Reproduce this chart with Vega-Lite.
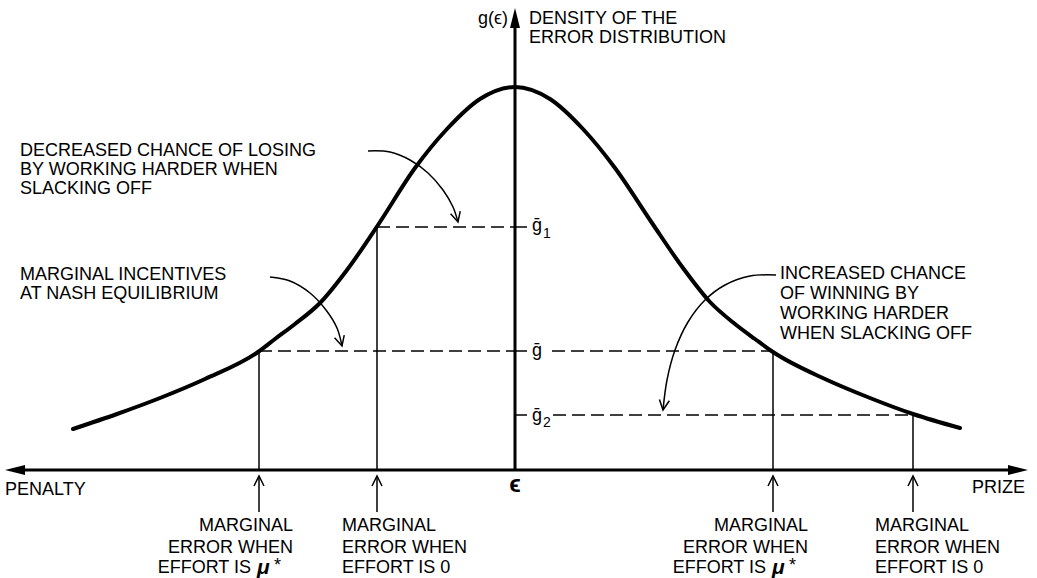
{
  "$schema": "https://vega.github.io/schema/vega-lite/v6.json",
  "width": 1037,
  "height": 578,
  "autosize": {"type": "fit", "contains": "padding"},
  "padding": 0,
  "background": "white",
  "config": {"view": {"stroke": null}, "text": {"font": "Liberation Sans", "fontSize": 18, "color": "black"}},
  "datasets": {
    "curve": [
      {"x": -4.42, "y": 0.41}, {"x": -3.98, "y": 0.56}, {"x": -3.55, "y": 0.72}, {"x": -3.10, "y": 0.91},
      {"x": -2.57, "y": 1.18}, {"x": -2.40, "y": 1.31}, {"x": -2.20, "y": 1.46}, {"x": -1.95, "y": 1.67},
      {"x": -1.68, "y": 2.00}, {"x": -1.37, "y": 2.45}, {"x": -1.00, "y": 3.02}, {"x": -0.68, "y": 3.41},
      {"x": -0.35, "y": 3.71}, {"x": 0, "y": 3.83}, {"x": 0.35, "y": 3.71}, {"x": 0.68, "y": 3.41},
      {"x": 1.00, "y": 3.02}, {"x": 1.37, "y": 2.47}, {"x": 1.68, "y": 2.02}, {"x": 1.95, "y": 1.68},
      {"x": 2.20, "y": 1.46}, {"x": 2.40, "y": 1.31}, {"x": 2.58, "y": 1.18}, {"x": 3.10, "y": 0.91},
      {"x": 3.55, "y": 0.72}, {"x": 3.98, "y": 0.56}, {"x": 4.45, "y": 0.42}
    ],
    "axes": [
      {"x": -4.95, "x2": 4.95, "y": 0, "y2": 0},
      {"x": 0, "x2": 0, "y": 0, "y2": 4.45}
    ],
    "thin": [
      {"x": -2.56, "x2": -2.56, "y": 0, "y2": 1.18},
      {"x": -1.38, "x2": -1.38, "y": 0, "y2": 2.43},
      {"x": 2.58, "x2": 2.58, "y": 0, "y2": 1.18},
      {"x": 3.98, "x2": 3.98, "y": 0, "y2": 0.56},
      {"x": 0, "x2": 0.12, "y": 2.43, "y2": 2.43},
      {"x": 0, "x2": 0.12, "y": 1.19, "y2": 1.19},
      {"x": 0, "x2": 0.12, "y": 0.55, "y2": 0.55},
      {"x": -2.56, "x2": -2.56, "y": -0.06, "y2": -0.42},
      {"x": -1.38, "x2": -1.38, "y": -0.06, "y2": -0.42},
      {"x": 2.58, "x2": 2.58, "y": -0.06, "y2": -0.42},
      {"x": 3.98, "x2": 3.98, "y": -0.06, "y2": -0.42}
    ],
    "dashed": [
      {"x": -2.56, "x2": 0, "y": 1.19, "y2": 1.19},
      {"x": 0.37, "x2": 2.58, "y": 1.19, "y2": 1.19},
      {"x": -1.38, "x2": 0, "y": 2.43, "y2": 2.43},
      {"x": 0.38, "x2": 3.98, "y": 0.55, "y2": 0.55}
    ],
    "upheads": [
      {"x": -2.56, "y": -0.06}, {"x": -1.38, "y": -0.06}, {"x": 2.58, "y": -0.06}, {"x": 3.98, "y": -0.06}
    ],
    "arrows": [
      {"id": "a", "i": 0, "x": -1.47, "y": 3.19}, {"id": "a", "i": 1, "x": -1.25, "y": 3.18},
      {"id": "a", "i": 2, "x": -1.05, "y": 3.10}, {"id": "a", "i": 3, "x": -0.87, "y": 2.97},
      {"id": "a", "i": 4, "x": -0.72, "y": 2.80}, {"id": "a", "i": 5, "x": -0.62, "y": 2.63},
      {"id": "a", "i": 6, "x": -0.57, "y": 2.48},
      {"id": "b", "i": 0, "x": -2.45, "y": 1.93}, {"id": "b", "i": 1, "x": -2.25, "y": 1.89},
      {"id": "b", "i": 2, "x": -2.05, "y": 1.77}, {"id": "b", "i": 3, "x": -1.89, "y": 1.60},
      {"id": "b", "i": 4, "x": -1.78, "y": 1.42}, {"id": "b", "i": 5, "x": -1.73, "y": 1.24},
      {"id": "c", "i": 0, "x": 2.61, "y": 1.95}, {"id": "c", "i": 1, "x": 2.35, "y": 1.94},
      {"id": "c", "i": 2, "x": 2.10, "y": 1.85}, {"id": "c", "i": 3, "x": 1.90, "y": 1.70},
      {"id": "c", "i": 4, "x": 1.73, "y": 1.48}, {"id": "c", "i": 5, "x": 1.60, "y": 1.20},
      {"id": "c", "i": 6, "x": 1.52, "y": 0.90}, {"id": "c", "i": 7, "x": 1.48, "y": 0.60}
    ],
    "leftText": [
      {"x": -4.95, "y": 3.19, "t": "DECREASED CHANCE OF LOSING"},
      {"x": -4.95, "y": 3.00, "t": "BY WORKING HARDER WHEN"},
      {"x": -4.95, "y": 2.81, "t": "SLACKING OFF"},
      {"x": -4.95, "y": 1.95, "t": "MARGINAL INCENTIVES"},
      {"x": -4.95, "y": 1.76, "t": "AT NASH EQUILIBRIUM"},
      {"x": 2.65, "y": 1.96, "t": "INCREASED CHANCE"},
      {"x": 2.65, "y": 1.76, "t": "OF WINNING BY"},
      {"x": 2.65, "y": 1.56, "t": "WORKING HARDER"},
      {"x": 2.65, "y": 1.36, "t": "WHEN SLACKING OFF"},
      {"x": 0.14, "y": 4.51, "t": "DENSITY OF THE"},
      {"x": 0.14, "y": 4.32, "t": "ERROR DISTRIBUTION"},
      {"x": -5.10, "y": -0.20, "t": "PENALTY"},
      {"x": -1.73, "y": -0.56, "t": "MARGINAL"},
      {"x": -1.73, "y": -0.78, "t": "ERROR WHEN"},
      {"x": -1.73, "y": -0.98, "t": "EFFORT IS 0"},
      {"x": 3.60, "y": -0.56, "t": "MARGINAL"},
      {"x": 3.60, "y": -0.78, "t": "ERROR WHEN"},
      {"x": 3.60, "y": -0.98, "t": "EFFORT IS 0"}
    ],
    "rightText": [
      {"x": -0.07, "y": 4.51, "t": "g(ϵ)"},
      {"x": 5.10, "y": -0.18, "t": "PRIZE"},
      {"x": -2.22, "y": -0.56, "t": "MARGINAL"},
      {"x": -2.22, "y": -0.78, "t": "ERROR WHEN"},
      {"x": -2.64, "y": -0.98, "t": "EFFORT IS"},
      {"x": 2.93, "y": -0.56, "t": "MARGINAL"},
      {"x": 2.93, "y": -0.78, "t": "ERROR WHEN"},
      {"x": 2.51, "y": -0.98, "t": "EFFORT IS"}
    ],
    "mu": [
      {"x": -2.58, "y": -0.98, "t": "μ"},
      {"x": 2.57, "y": -0.98, "t": "μ"}
    ],
    "star": [
      {"x": -2.41, "y": -0.96, "t": "*"},
      {"x": 2.74, "y": -0.96, "t": "*"}
    ],
    "gbar": [
      {"x": 0.17, "y": 2.39, "t": "ḡ"},
      {"x": 0.17, "y": 1.14, "t": "ḡ"},
      {"x": 0.17, "y": 0.49, "t": "ḡ"}
    ],
    "subs": [
      {"x": 0.28, "y": 2.32, "t": "1"},
      {"x": 0.28, "y": 0.43, "t": "2"}
    ],
    "eps": [{"x": 0, "y": -0.15, "t": "ϵ"}]
  },
  "encoding": {
    "x": {"field": "x", "type": "quantitative", "scale": {"domain": [-5.15, 5.22], "nice": false, "zero": false}, "axis": null},
    "y": {"field": "y", "type": "quantitative", "scale": {"domain": [-1.08, 4.70], "nice": false, "zero": false}, "axis": null}
  },
  "layer": [
    {"data": {"name": "curve"}, "mark": {"type": "line", "color": "black", "strokeWidth": 4, "interpolate": "monotone", "strokeCap": "round"}},
    {"data": {"name": "axes"}, "mark": {"type": "rule", "color": "black", "strokeWidth": 3},
      "encoding": {"x2": {"field": "x2"}, "y2": {"field": "y2"}}},
    {"data": {"name": "thin"}, "mark": {"type": "rule", "color": "black", "strokeWidth": 1.5},
      "encoding": {"x2": {"field": "x2"}, "y2": {"field": "y2"}}},
    {"data": {"name": "dashed"}, "mark": {"type": "rule", "color": "black", "strokeWidth": 1.5, "strokeDash": [13, 6]},
      "encoding": {"x2": {"field": "x2"}, "y2": {"field": "y2"}}},
    {"data": {"name": "arrows"}, "mark": {"type": "line", "color": "black", "strokeWidth": 1.5, "interpolate": "catmull-rom"},
      "encoding": {"detail": {"field": "id"}, "order": {"field": "i", "type": "quantitative"}}},
    {"data": {"name": "upheads"}, "mark": {"type": "point", "shape": "M-1,2L0,0L1,2", "size": 100, "filled": false, "stroke": "black", "strokeWidth": 1.5, "opacity": 1}},
    {"data": {"values": [{"x": -0.57, "y": 2.48}, {"x": -1.73, "y": 1.24}]}, "mark": {"type": "point", "shape": "M-1,-2L0,0L1,-2", "size": 100, "filled": false, "stroke": "black", "strokeWidth": 1.5, "opacity": 1, "angle": 345}},
    {"data": {"values": [{"x": 1.48, "y": 0.60}]}, "mark": {"type": "point", "shape": "M-1,-2L0,0L1,-2", "size": 100, "filled": false, "stroke": "black", "strokeWidth": 1.5, "opacity": 1, "angle": 8}},
    {"data": {"values": [{"x": 0, "y": 4.62}]}, "mark": {"type": "point", "shape": "M0,0L-0.5,2L0.5,2Z", "size": 400, "filled": true, "color": "black", "opacity": 1}},
    {"data": {"values": [{"x": -5.10, "y": 0}]}, "mark": {"type": "point", "shape": "M0,0L2,-0.5L2,0.5Z", "size": 400, "filled": true, "color": "black", "opacity": 1}},
    {"data": {"values": [{"x": 5.13, "y": 0}]}, "mark": {"type": "point", "shape": "M0,0L-2,-0.5L-2,0.5Z", "size": 400, "filled": true, "color": "black", "opacity": 1}},
    {"data": {"name": "leftText"}, "mark": {"type": "text", "align": "left", "baseline": "middle"}, "encoding": {"text": {"field": "t"}}},
    {"data": {"name": "rightText"}, "mark": {"type": "text", "align": "right", "baseline": "middle"}, "encoding": {"text": {"field": "t"}}},
    {"data": {"name": "mu"}, "mark": {"type": "text", "align": "left", "baseline": "middle", "fontSize": 21, "fontWeight": "bold", "fontStyle": "italic"}, "encoding": {"text": {"field": "t"}}},
    {"data": {"name": "star"}, "mark": {"type": "text", "align": "left", "baseline": "middle", "fontSize": 18}, "encoding": {"text": {"field": "t"}}},
    {"data": {"name": "gbar"}, "mark": {"type": "text", "align": "left", "baseline": "alphabetic", "fontSize": 18}, "encoding": {"text": {"field": "t"}}},
    {"data": {"name": "subs"}, "mark": {"type": "text", "align": "left", "baseline": "alphabetic", "fontSize": 14}, "encoding": {"text": {"field": "t"}}},
    {"data": {"name": "eps"}, "mark": {"type": "text", "align": "center", "baseline": "middle", "fontSize": 24, "fontWeight": "bold"}, "encoding": {"text": {"field": "t"}}}
  ]
}
